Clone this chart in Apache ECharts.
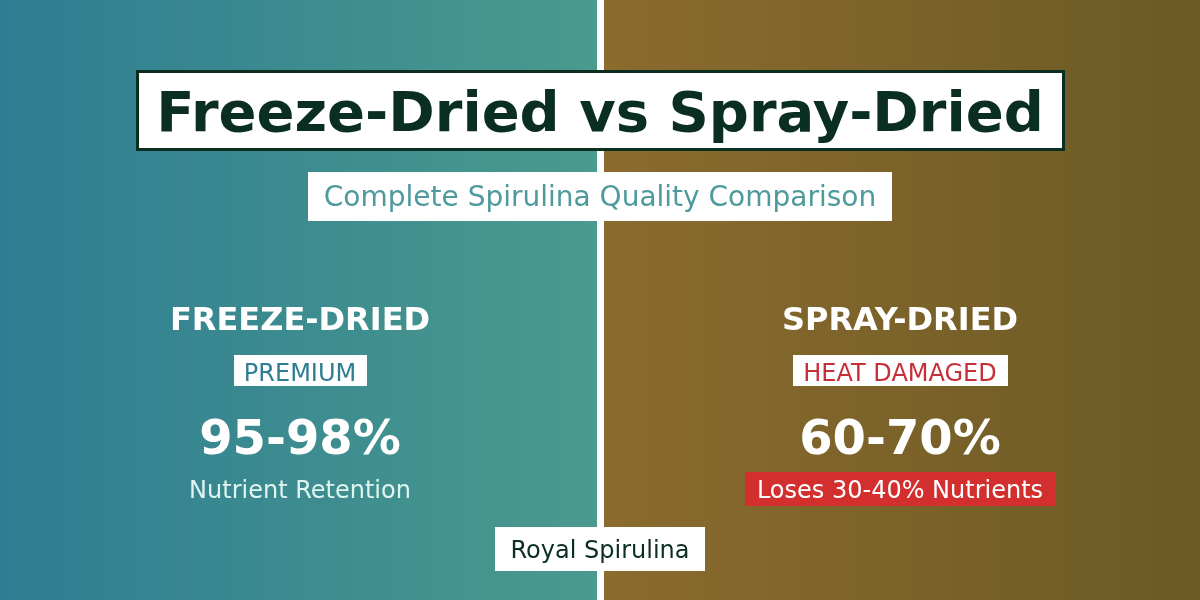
<!DOCTYPE html>
<html>
<head>
<meta charset="utf-8">
<style>html,body{margin:0;padding:0;background:#fff}#main{width:1200px;height:600px}</style>
<script src="https://cdn.jsdelivr.net/npm/echarts@6/dist/echarts.min.js"></script>
</head>
<body>
<div id="main"></div>
<script>
var titleText = 'Freeze-Dried vs Spray-Dried';
var subtitleText = 'Complete Spirulina Quality Comparison';
var methods = ['FREEZE-DRIED', 'SPRAY-DRIED'];
var badges = ['PREMIUM', 'HEAT DAMAGED'];
var ranges = ['95-98%', '60-70%'];
var notes = ['Nutrient Retention', 'Loses 30-40% Nutrients'];
var brand = 'Royal Spirulina';

var FONT = '"DejaVu Sans", sans-serif';
var myChart = echarts.init(document.getElementById('main'), null, {renderer: 'canvas'});

function grad(a, b) {
  return new echarts.graphic.LinearGradient(0, 0, 1, 0, [{offset: 0, color: a}, {offset: 1, color: b}]);
}
function box(x, y, w, h, fill, stroke) {
  return {type: 'rect', shape: {x: x, y: y, width: w, height: h},
    style: {fill: fill, stroke: stroke || null, lineWidth: stroke ? 3 : 0}};
}
function label(cx, cy, str, size, color, weight) {
  return {type: 'text', x: cx, y: cy,
    style: {text: str, fontFamily: FONT, fontSize: size, fontWeight: weight || 'normal', fill: color,
      align: 'center', verticalAlign: 'middle'}};
}

var els = [
  box(0, 0, 597, 600, grad('#2e7d92', '#4a9a8e')),
  box(604, 0, 596, 600, grad('#8b6b2e', '#6b5a25')),
  box(597, 0, 7, 600, '#ffffff'),
  box(137.5, 71.5, 926, 78, '#ffffff', '#0a2e1f'),
  label(600, 116, titleText, 56, '#0a2e1f', 'bold'),
  box(308, 172, 584, 49, '#ffffff'),
  label(600, 199, subtitleText, 28, '#4f9a9c'),
  label(300, 322, methods[0], 32, '#ffffff', 'bold'),
  label(900, 322, methods[1], 32, '#ffffff', 'bold'),
  box(234, 355, 133, 31, '#ffffff'),
  label(300, 375, badges[0], 24, '#2e7d92'),
  box(793, 355, 215, 31, '#ffffff'),
  label(900, 375, badges[1], 24, '#c62f3a'),
  label(300, 442, ranges[0], 48, '#ffffff', 'bold'),
  label(900, 442, ranges[1], 48, '#ffffff', 'bold'),
  label(300, 492, notes[0], 24, '#e0f5f0'),
  box(745, 472, 311, 34, '#d32f2f'),
  label(900, 492, notes[1], 24, '#ffffff'),
  box(495, 527, 210, 44, '#ffffff'),
  label(600, 552, brand, 24, '#0a2e1f')
];

var option = {
  animation: false,
  graphic: {elements: els}
};
myChart.setOption(option);
</script>
</body>
</html>
